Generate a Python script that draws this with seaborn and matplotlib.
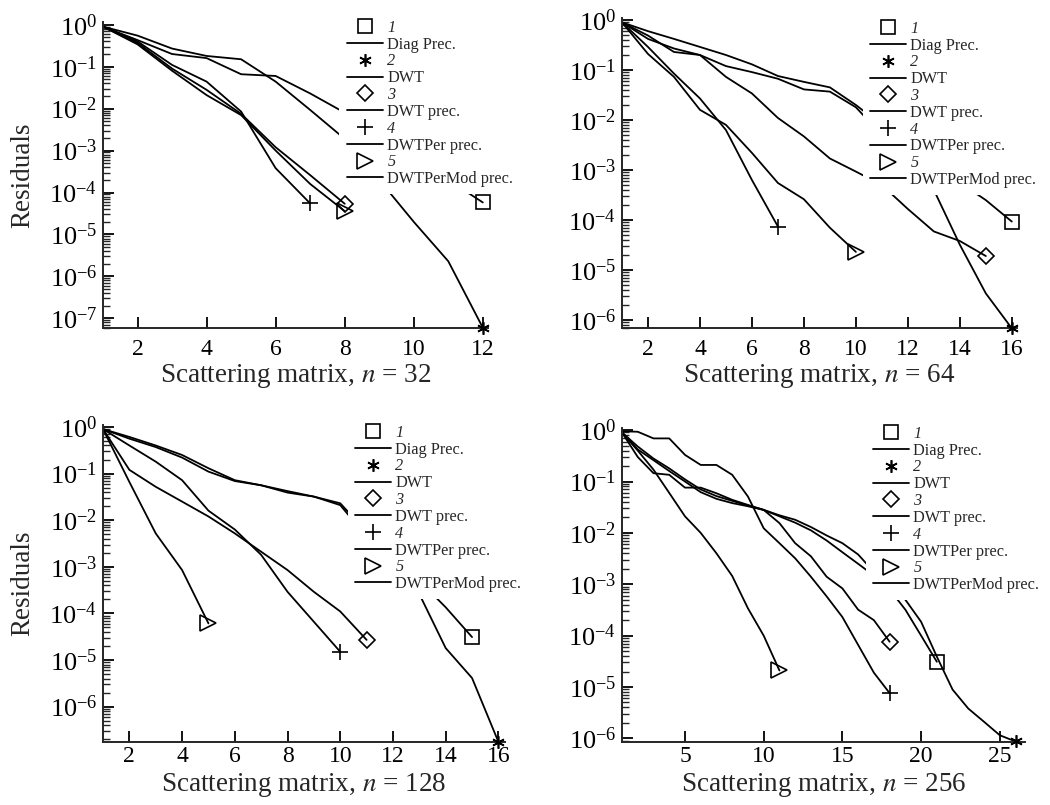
import numpy as np
import pandas as pd
import seaborn as sns
import matplotlib
matplotlib.use("Agg")
import matplotlib.pyplot as plt
from matplotlib.lines import Line2D
from matplotlib.ticker import NullFormatter, FixedLocator, LogFormatterSciNotation

# ---------------- data ----------------
series_numbers = ["1", "2", "3", "4", "5"]
series_names = ["Diag Prec.", "DWT", "DWT prec.", "DWTPer prec.", "DWTPerMod prec."]

# n = 32
n32_diag = [0.9, 0.43, 0.2, 0.16, 0.066, 0.06, 0.023, 0.008, 2.2e-3, 6.3e-4, 2.0e-4, 5.8e-5]
n32_dwt = [0.9, 0.55, 0.27, 0.18, 0.15, 0.044, 9.3e-3, 1.9e-3, 2.0e-4, 2.0e-5, 2.3e-6, 6.0e-8]
n32_dwt_prec = [0.9, 0.37, 0.09, 0.028, 7.5e-3, 1.2e-3, 2.6e-4, 5.4e-5]
n32_dwtper = [0.9, 0.4, 0.11, 0.044, 8.5e-3, 3.8e-4, 5.5e-5]
n32_dwtpermod = [0.9, 0.34, 0.08, 0.021, 7.0e-3, 1.0e-3, 1.6e-4, 3.6e-5]

# n = 64
n64_diag = [0.9, 0.6, 0.42, 0.29, 0.2, 0.13, 0.076, 0.058, 0.045, 0.02,
            7.9e-3, 3.2e-3, 1.26e-3, 5.6e-4, 2.5e-4, 9.3e-5]
n64_dwt = [0.9, 0.49, 0.23, 0.2, 0.12, 0.091, 0.067, 0.041, 0.037, 0.018,
           5.0e-3, 1.4e-3, 4.0e-4, 3.2e-5, 3.4e-6, 6.8e-7]
n64_dwt_prec = [0.9, 0.42, 0.27, 0.2, 0.073, 0.034, 0.011, 4.7e-3, 1.7e-3, 9.3e-4,
                5.0e-4, 1.66e-4, 5.9e-5, 3.8e-5, 1.9e-5]
n64_dwtper = [0.9, 0.29, 0.085, 0.027, 6.3e-3, 6.3e-4, 7.4e-5]
n64_dwtpermod = [0.9, 0.21, 0.073, 0.016, 8.0e-3, 2.2e-3, 5.5e-4, 2.6e-4, 7.0e-5, 2.3e-5]

# n = 128
n128_diag = [0.9, 0.61, 0.4, 0.25, 0.13, 0.072, 0.056, 0.042, 0.032, 0.023,
             5.6e-3, 1.6e-3, 5.0e-4, 1.35e-4, 3.1e-5]
n128_dwt = [0.9, 0.56, 0.37, 0.22, 0.11, 0.069, 0.056, 0.039, 0.032, 0.021,
            4.4e-3, 1.07e-3, 2.6e-4, 1.8e-5, 4.1e-6, 1.75e-7]
n128_dwt_prec = [0.9, 0.12, 0.052, 0.025, 0.012, 5.2e-3, 2.1e-3, 8.5e-4, 2.9e-4, 1.1e-4, 2.7e-5]
n128_dwtper = [0.9, 0.4, 0.18, 0.072, 0.016, 6.3e-3, 1.8e-3, 2.9e-4, 6.6e-5, 1.5e-5]
n128_dwtpermod = [0.9, 0.066, 5.2e-3, 8.5e-4, 6.1e-5]

# n = 256
n256_diag = [0.9, 0.3, 0.145, 0.135, 0.076, 0.076, 0.059, 0.044, 0.035, 0.028,
             0.022, 0.018, 0.013, 8.9e-3, 6.3e-3, 3.8e-3, 1.74e-3, 7.9e-4, 3.2e-4, 1.0e-4, 3.1e-5]
n256_dwt = [0.9, 0.48, 0.28, 0.18, 0.11, 0.07, 0.052, 0.042, 0.034, 0.028,
            0.021, 0.0158, 0.0112, 7.1e-3, 4.2e-3, 2.5e-3, 1.48e-3, 8.5e-4, 5.0e-4, 1.86e-4,
            3.9e-5, 8.9e-6, 3.8e-6, 2.1e-6, 1.15e-6, 8.7e-7]
n256_dwt_prec = [0.9, 0.42, 0.26, 0.16, 0.1, 0.062, 0.046, 0.038, 0.033, 0.028,
                 0.0155, 6.3e-3, 3.5e-3, 1.4e-3, 8.3e-4, 3.2e-4, 2.0e-4, 7.6e-5]
n256_dwtper = [0.95, 0.93, 0.69, 0.69, 0.33, 0.21, 0.21, 0.135, 0.051, 0.0123,
               6.3e-3, 3.2e-3, 1.4e-3, 5.8e-4, 2.3e-4, 6.6e-5, 1.9e-5, 7.6e-6]
n256_dwtpermod = [0.9, 0.4, 0.17, 0.06, 0.021, 0.01, 4.0e-3, 1.45e-3, 3.4e-4, 1.0e-4, 2.1e-5]

matrix_sizes = [32, 64, 128, 256]
xticks_32 = [2, 4, 6, 8, 10, 12]
xticks_64 = [2, 4, 6, 8, 10, 12, 14, 16]
xticks_128 = [2, 4, 6, 8, 10, 12, 14, 16]
xticks_256 = [5, 10, 15, 20, 25]
yticks_32 = [1e0, 1e-1, 1e-2, 1e-3, 1e-4, 1e-5, 1e-6, 1e-7]
yticks_64 = [1e0, 1e-1, 1e-2, 1e-3, 1e-4, 1e-5, 1e-6]
yticks_128 = [1e0, 1e-1, 1e-2, 1e-3, 1e-4, 1e-5, 1e-6]
yticks_256 = [1e0, 1e-1, 1e-2, 1e-3, 1e-4, 1e-5, 1e-6]

# ---------------- style ----------------
sns.set_style("ticks")
plt.rcParams["font.family"] = ["Liberation Serif", "DejaVu Serif"]
plt.rcParams["mathtext.fontset"] = "stix"

markers = ["s", (6, 2, 0), "D", "+", ">"]
msizes = [9.5, 9, 8.5, 12, 12]

fig = plt.figure(figsize=(10.5, 8.05), dpi=100)
W, H = 1050.0, 805.0


def px_axes(left, top, right, bottom):
    return fig.add_axes([left / W, 1 - bottom / H, (right - left) / W, (bottom - top) / H])


def minor_ticks(lo, hi):
    out = []
    for e in range(-9, 2):
        for m in range(2, 10):
            v = m * 10.0 ** e
            if lo <= v <= hi:
                out.append(v)
    return out


panels = [
    dict(rect=(103, 22, 488, 328), data=[n32_diag, n32_dwt, n32_dwt_prec, n32_dwtper, n32_dwtpermod],
         xlim=(1, 12.15), ylim=(5.9e-8, 1.16), xticks=xticks_32, yticks=yticks_32,
         n=matrix_sizes[0], ylab=True, leg=(339.5, 12.5), xpad=8, lpad=1),
    dict(rect=(622, 18, 1017, 328), data=[n64_diag, n64_dwt, n64_dwt_prec, n64_dwtper, n64_dwtpermod],
         xlim=(1, 16.2), ylim=(6.9e-7, 1.1), xticks=xticks_64, yticks=yticks_64,
         n=matrix_sizes[1], ylab=False, leg=(862.5, 13.5), xpad=8, lpad=1),
    dict(rect=(103, 425, 505, 742), data=[n128_diag, n128_dwt, n128_dwt_prec, n128_dwtper, n128_dwtpermod],
         xlim=(1, 16.25), ylim=(1.74e-7, 1.1), xticks=xticks_128, yticks=yticks_128,
         n=matrix_sizes[2], ylab=True, leg=(347.5, 417.5), xpad=3, lpad=3),
    dict(rect=(622, 428, 1025, 742), data=[n256_diag, n256_dwt, n256_dwt_prec, n256_dwtper, n256_dwtpermod],
         xlim=(1, 26.6), ylim=(8.5e-7, 1.1), xticks=xticks_256, yticks=yticks_256,
         n=matrix_sizes[3], ylab=False, leg=(865.5, 418.5), xpad=3, lpad=3),
]

for p in panels:
    ax = px_axes(*p["rect"])
    ax.set_yscale("log")
    for vals, mk, ms in zip(p["data"], markers, msizes):
        x = np.arange(1, len(vals) + 1)
        df = pd.DataFrame({"iter": x, "res": vals})
        sns.lineplot(data=df, x="iter", y="res", ax=ax, color="black", linewidth=1.3,
                     legend=False, zorder=2)
        ax.plot(x[-1:], vals[-1:], ls="none", marker=mk, ms=ms, mfc="none", mec="black",
                mew=1.2, clip_on=False, zorder=12)
    ax.set_xlim(*p["xlim"])
    ax.set_ylim(*p["ylim"])
    ax.xaxis.set_major_locator(FixedLocator(p["xticks"]))
    ax.yaxis.set_major_locator(FixedLocator(p["yticks"]))
    ax.yaxis.set_major_formatter(LogFormatterSciNotation(base=10))
    ax.yaxis.set_minor_locator(FixedLocator(minor_ticks(*p["ylim"])))
    ax.yaxis.set_minor_formatter(NullFormatter())
    for s in ["top", "right"]:
        ax.spines[s].set_visible(False)
    for s in ["left", "bottom"]:
        ax.spines[s].set_linewidth(1.4)
    ax.tick_params(axis="both", which="major", direction="in", length=8, width=1.3,
                   colors="black")
    ax.tick_params(axis="x", which="major", labelsize=17, pad=p["xpad"])
    ax.tick_params(axis="y", which="major", labelsize=19, pad=4)
    ax.tick_params(axis="y", which="minor", direction="in", length=5, width=1.0)
    ax.set_xlabel(r"Scattering matrix, $n$ = %d" % p["n"], fontsize=19.5, labelpad=p["lpad"])
    if p["ylab"]:
        ax.set_ylabel("Residuals", fontsize=19.5, labelpad=10)
    else:
        ax.set_ylabel("")

    handles, labels = [], []
    for num, name, mk, ms in zip(series_numbers, series_names, markers, msizes):
        handles.append(Line2D([], [], ls="none", marker=mk, ms=ms, mfc="none",
                              mec="black", mew=1.2))
        labels.append(num)
        handles.append(Line2D([], [], color="black", lw=1.3))
        labels.append(name)
    lx, ly = p["leg"]
    leg = ax.legend(handles, labels, loc="upper left", bbox_to_anchor=(lx / W, 1 - ly / H),
                    bbox_transform=fig.transFigure, frameon=True, facecolor="white",
                    edgecolor="none", framealpha=1.0, fancybox=False, fontsize=11.7,
                    handlelength=2.2, handletextpad=0.3, labelspacing=0.05,
                    borderpad=0.45, borderaxespad=0)
    leg.set_zorder(10)
    for i, t in enumerate(leg.get_texts()):
        if i % 2 == 0:
            t.set_fontstyle("italic")

fig.savefig("out.png", dpi=100)
